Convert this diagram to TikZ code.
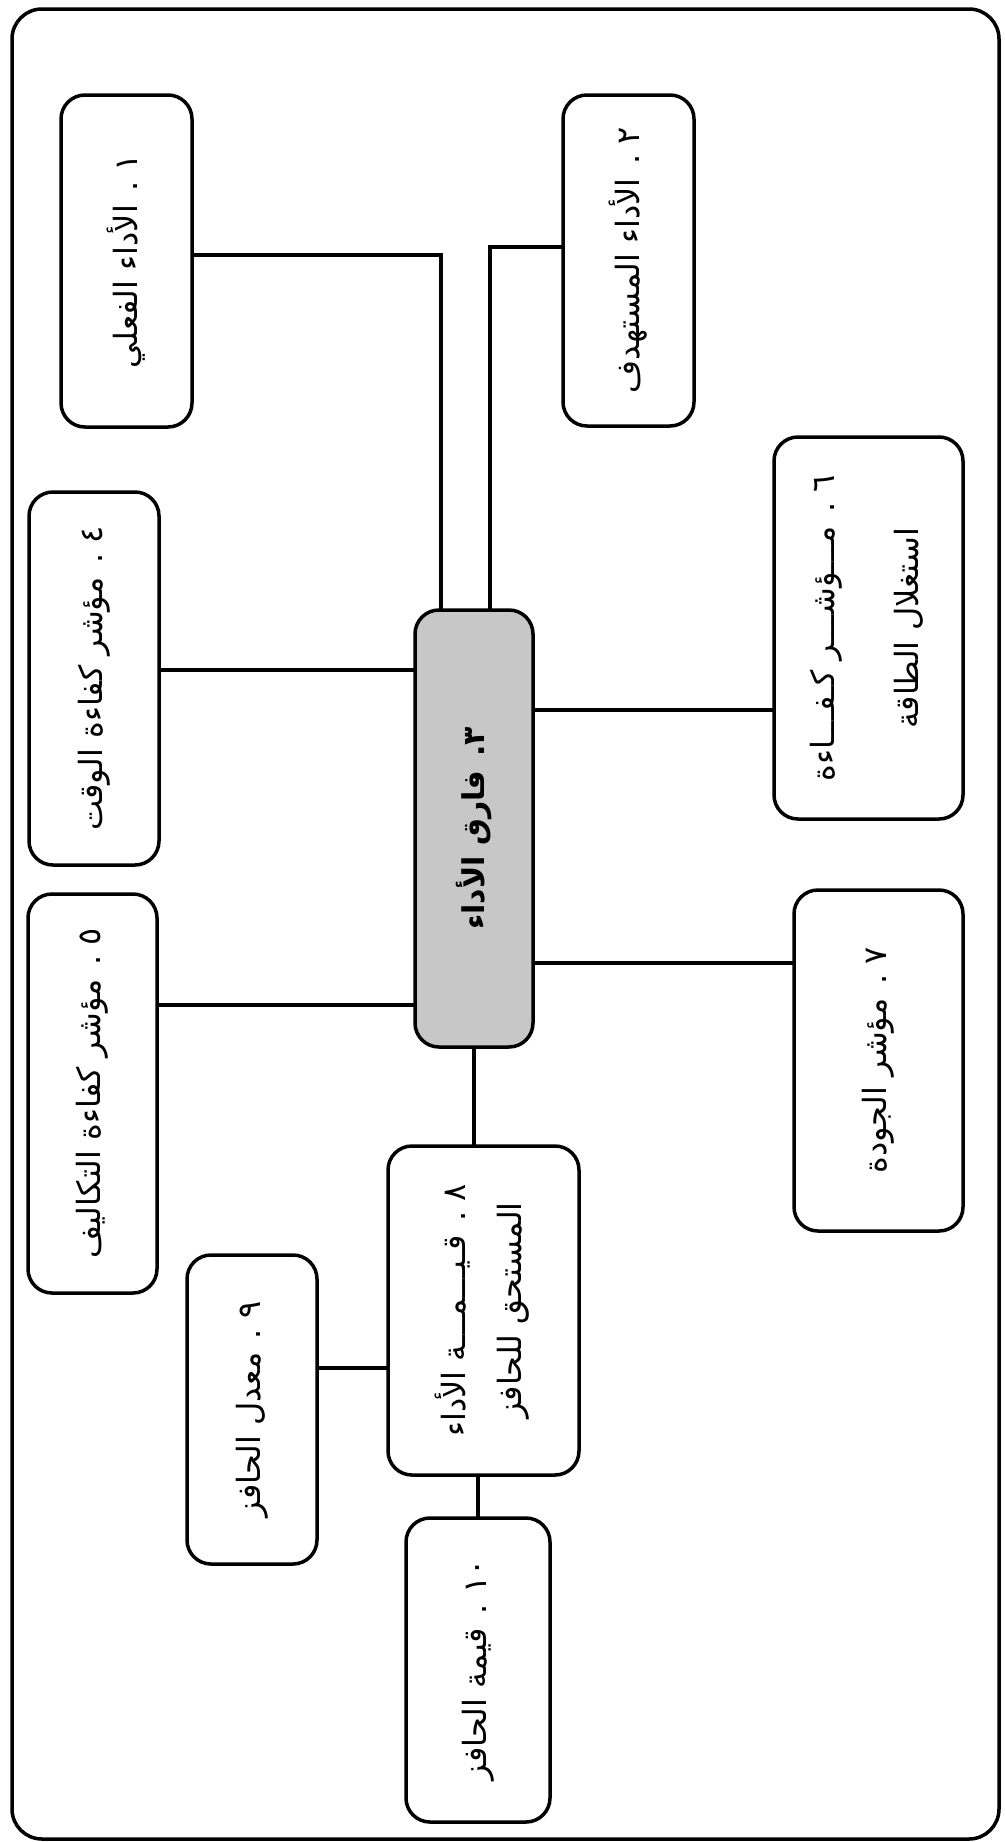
\documentclass[tikz,border=0pt]{standalone}
\usepackage{fontspec}
\usepackage{graphicx}
\TeXXeTstate=1
\newfontfamily\arfont[Script=Arabic]{DejaVu Sans}
\newcommand{\arsize}{\arfont\fontsize{32}{38}\selectfont}
\begin{document}
\begin{tikzpicture}[x=1pt,y=-1pt,
  box/.style={draw=black,line width=3.5pt,rounded corners=24pt,inner sep=0pt,outer sep=0pt,fill=white},
  centrebox/.style={box,fill=black!22},
  conn/.style={draw=black,line width=3.5pt},
  frame/.style={draw=black,line width=3.5pt,rounded corners=30pt}]
\useasboundingbox (0,0) rectangle (1004,1842);
\draw[frame] (12,9) rectangle (999,1839);
% nodes
\node[box,minimum width=131pt,minimum height=332pt] (b1) at (126.5,261) {\rotatebox{90}{\arsize\beginR ١ . الأداء الفعلي\endR}};
\node[box,minimum width=131pt,minimum height=331pt] (b2) at (628.5,260.5) {\rotatebox{90}{\arsize\beginR ٢ . الأداء المستهدف\endR}};
\node[box,minimum width=189pt,minimum height=382pt] (b6) at (868.5,628) {\rotatebox{90}{\arsize\begin{tabular}{@{}c@{}}\beginR ٦ . مـــؤشـــر كـفـــاءة\endR\\[46pt]\beginR استغلال الطاقة\endR\end{tabular}}};
\node[box,minimum width=130pt,minimum height=373pt] (b4) at (94,678.5) {\rotatebox{90}{\arsize\beginR ٤ . مؤشر كفاءة الوقت\endR}};
\node[box,minimum width=129pt,minimum height=399pt] (b5) at (92.5,1093.5) {\rotatebox{90}{\arsize\beginR ٥ . مؤشر كفاءة التكاليف\endR}};
\node[centrebox,minimum width=118pt,minimum height=437pt] (c) at (474,828.5) {\rotatebox{90}{\arfont\bfseries\fontsize{30}{36}\selectfont\beginR ٣. فارق الأداء\endR}};
\node[box,minimum width=169pt,minimum height=341pt] (b7) at (878.5,1060.5) {\rotatebox{90}{\arsize\beginR ٧ . مؤشر الجودة\endR}};
\node[box,minimum width=191pt,minimum height=329pt] (b8) at (483.5,1310.5) {\rotatebox{90}{\arsize\begin{tabular}{@{}c@{}}\beginR ٨ . قـيـــمـــة الأداء\endR\\[18pt]\beginR المستحق للحافز\endR\end{tabular}}};
\node[box,minimum width=130pt,minimum height=309pt] (b9) at (252,1409.5) {\rotatebox{90}{\arsize\beginR ٩ . معدل الحافز\endR}};
\node[box,minimum width=144pt,minimum height=304pt] (b10) at (478,1670) {\rotatebox{90}{\arsize\beginR ١٠ . قيمة الحافز\endR}};
% connectors
\draw[conn] ([yshift=6pt]b1.east) -| ([xshift=-33pt]c.north);
\draw[conn] ([yshift=13.5pt]b2.west) -| ([xshift=16pt]c.north);
\draw[conn] ([yshift=8.5pt]b4.east) -- ([yshift=8.5pt]b4.east -| c.west);
\draw[conn] ([yshift=88.5pt]b5.east) -- ([yshift=88.5pt]b5.east -| c.west);
\draw[conn] ([yshift=-82pt]b6.west) -- ([yshift=-82pt]b6.west -| c.east);
\draw[conn] ([yshift=97.5pt]b7.west) -- ([yshift=97.5pt]b7.west -| c.east);
\draw[conn] (c.south) -- (c.south |- b8.north);
\draw[conn] ([yshift=41.5pt]b9.east) -- ([yshift=41.5pt]b9.east -| b8.west);
\draw[conn] (b10.north |- b8.south) -- (b10.north);
\end{tikzpicture}
\end{document}
